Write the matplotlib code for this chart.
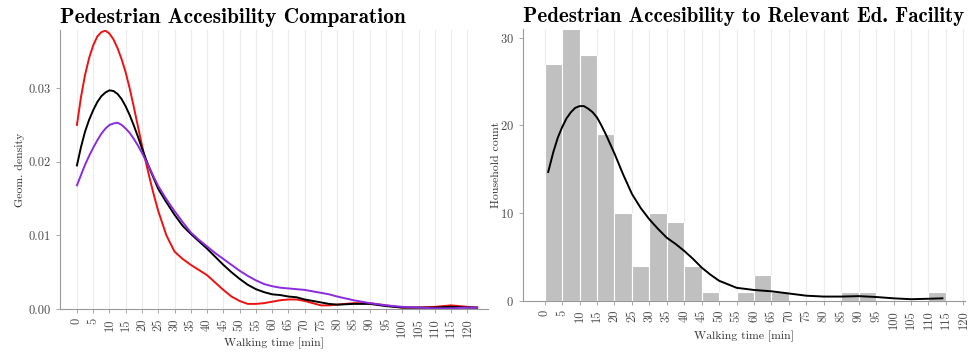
import numpy as np
import matplotlib
matplotlib.use("Agg")
import matplotlib.pyplot as plt
from matplotlib.ticker import FormatStrFormatter

plt.rcParams['font.family'] = ['cmr10', 'DejaVu Serif']
plt.rcParams['axes.formatter.use_mathtext'] = True

# left panel: density curves (walking time in min)
t_left = [0, 1.25, 2.5, 3.75, 5, 6.25, 7.5, 8.75, 10, 11.25, 12.5, 13.75, 15, 16.25, 17.5,
          18.75, 20, 21.25, 22.5, 23.75, 25, 27.5, 30, 32.5, 35, 37.5,
          40, 42.5, 45, 47.5, 50, 52.5, 55, 57.5, 60, 62.5, 65, 67.5, 70, 72.5, 75,
          77.5, 80, 85, 90, 95, 100, 105, 110, 115, 120, 123]
dens_red = [0.0250, 0.0288, 0.0318, 0.0341, 0.0358, 0.0370, 0.0376, 0.0378, 0.0374, 0.0366,
            0.0354, 0.0339, 0.0321, 0.0299, 0.0274, 0.0248, 0.0222, 0.0198, 0.0175, 0.0153,
            0.0133, 0.0100, 0.0078, 0.0068, 0.0060, 0.0053, 0.0046, 0.0036, 0.0026, 0.0017,
            0.0011, 0.0007, 0.0007, 0.0008, 0.0010, 0.0012, 0.0013, 0.0013, 0.0011, 0.0008,
            0.0005, 0.0005, 0.0006, 0.0008, 0.0008, 0.0005, 0.0002, 0.0002, 0.0003, 0.0005,
            0.0003, 0.0002]
dens_black = [0.0195, 0.0220, 0.0241, 0.0257, 0.0270, 0.0281, 0.0289, 0.0294, 0.0297, 0.0296,
              0.0292, 0.0285, 0.0275, 0.0263, 0.0249, 0.0234, 0.0218, 0.0203, 0.0189, 0.0176,
              0.0163, 0.0145, 0.0128, 0.0113, 0.0102, 0.0092, 0.0082, 0.0071, 0.0060, 0.0050,
              0.0041, 0.0033, 0.0027, 0.0023, 0.0020, 0.0019, 0.0017, 0.0016, 0.0013, 0.0011,
              0.0009, 0.0007, 0.0006, 0.0007, 0.0007, 0.0004, 0.0002, 0.0002, 0.0002, 0.0003,
              0.0002, 0.0002]
dens_purple = [0.0168, 0.0182, 0.0196, 0.0208, 0.0219, 0.0229, 0.0238, 0.0245, 0.0250, 0.0252,
               0.0253, 0.0250, 0.0245, 0.0239, 0.0231, 0.0222, 0.0212, 0.0201, 0.0190, 0.0178,
               0.0167, 0.0149, 0.0133, 0.0118, 0.0104, 0.0094, 0.0085, 0.0076, 0.0068, 0.0060,
               0.0052, 0.0045, 0.0039, 0.0034, 0.0031, 0.0029, 0.0028, 0.0027, 0.0026, 0.0024,
               0.0022, 0.0020, 0.0017, 0.0012, 0.0008, 0.0005, 0.0003, 0.0002, 0.0001, 0.0001,
               0.0002, 0.0002]

# right panel: histogram of household walking times (5 min bins)
bin_left = [0, 5, 10, 15, 20, 25, 30, 35, 40, 45, 50, 55, 60, 65, 70, 75, 80, 85, 90, 95,
            100, 105, 110]
counts = [27, 31, 28, 19, 10, 4, 10, 9, 4, 1, 0, 1, 3, 1, 0, 0, 0, 1, 1, 0, 0, 0, 1]
t_kde = [1, 2.5, 3.75, 5, 6.25, 7.5, 8.75, 10, 11.25, 12.5, 13.75, 15, 16.25, 17.5, 18.75,
         20, 22.5, 25, 27.5, 30, 32.5, 35, 37.5, 40, 42.5, 45, 47.5, 50, 55, 60, 65, 70, 75,
         80, 85, 90, 95, 100, 105, 110, 114]
kde_count = [14.7, 17.0, 18.6, 19.8, 20.8, 21.5, 22.0, 22.2, 22.2, 21.9, 21.5, 20.9, 20.0,
             19.0, 17.9, 16.8, 14.4, 12.2, 10.6, 9.3, 8.2, 7.2, 6.5, 5.7, 4.8, 3.8, 3.0, 2.3,
             1.5, 1.25, 1.1, 0.85, 0.6, 0.5, 0.5, 0.55, 0.45, 0.3, 0.2, 0.25, 0.3]

xticks = list(range(0, 125, 5))

fig = plt.figure(figsize=(9.68, 3.52), dpi=100)
ax1 = fig.add_axes([0.062, 0.122, 0.442, 0.793])
ax2 = fig.add_axes([0.540, 0.145, 0.457, 0.773])

def style(ax):
    for s in ['top', 'right']:
        ax.spines[s].set_visible(False)
    for s in ['left', 'bottom']:
        ax.spines[s].set_color('#999999')
        ax.spines[s].set_linewidth(0.8)
    ax.set_xticks(xticks)
    ax.set_xticklabels([str(v) for v in xticks], rotation=90, fontsize=9)
    ax.tick_params(axis='both', colors='#999999', labelcolor='#4d4d4d', length=3, width=0.6)
    ax.tick_params(axis='y', labelsize=9)
    ax.grid(axis='x', color='#ececec', linewidth=0.8)
    ax.set_axisbelow(True)
    ax.set_xlabel('Walking time [min]', fontsize=8.5, color='#333333')

# left
ax1.plot(t_left, dens_red, color='#ee1111', lw=1.4)
ax1.plot(t_left, dens_black, color='black', lw=1.4)
ax1.plot(t_left, dens_purple, color='#8a2be2', lw=1.4)
ax1.set_xlim(-5.2, 126.3)
ax1.set_ylim(0, 0.0379)
ax1.set_yticks([0, 0.01, 0.02, 0.03])
ax1.yaxis.set_major_formatter(FormatStrFormatter('%.2f'))
style(ax1)
ax1.set_ylabel('Geom. density', fontsize=8.5, color='#333333')
ax1.xaxis.set_label_coords(0.5, -0.102)
ax1.yaxis.set_label_coords(-0.082, 0.5)
ax1.set_title('Pedestrian Accesibility Comparation', loc='left', fontsize=15.3,
              fontfamily='cmb10', pad=5)

# right
ax2.bar(bin_left, counts, width=5, align='edge', color='#c0c0c0', edgecolor='white',
        linewidth=0.8)
ax2.plot(t_kde, kde_count, color='black', lw=1.4)
ax2.set_xlim(-6.3, 120.5)
ax2.set_ylim(0, 31)
ax2.set_yticks([0, 10, 20, 30])
style(ax2)
ax2.set_ylabel('Household count', fontsize=8.5, color='#333333')
ax2.xaxis.set_label_coords(0.5, -0.107)
ax2.yaxis.set_label_coords(-0.048, 0.5)
ax2.set_title('Pedestrian Accesibility to Relevant Ed. Facility', loc='left', fontsize=15,
              fontfamily='cmb10', pad=5)

fig.savefig('out.png', dpi=100)
